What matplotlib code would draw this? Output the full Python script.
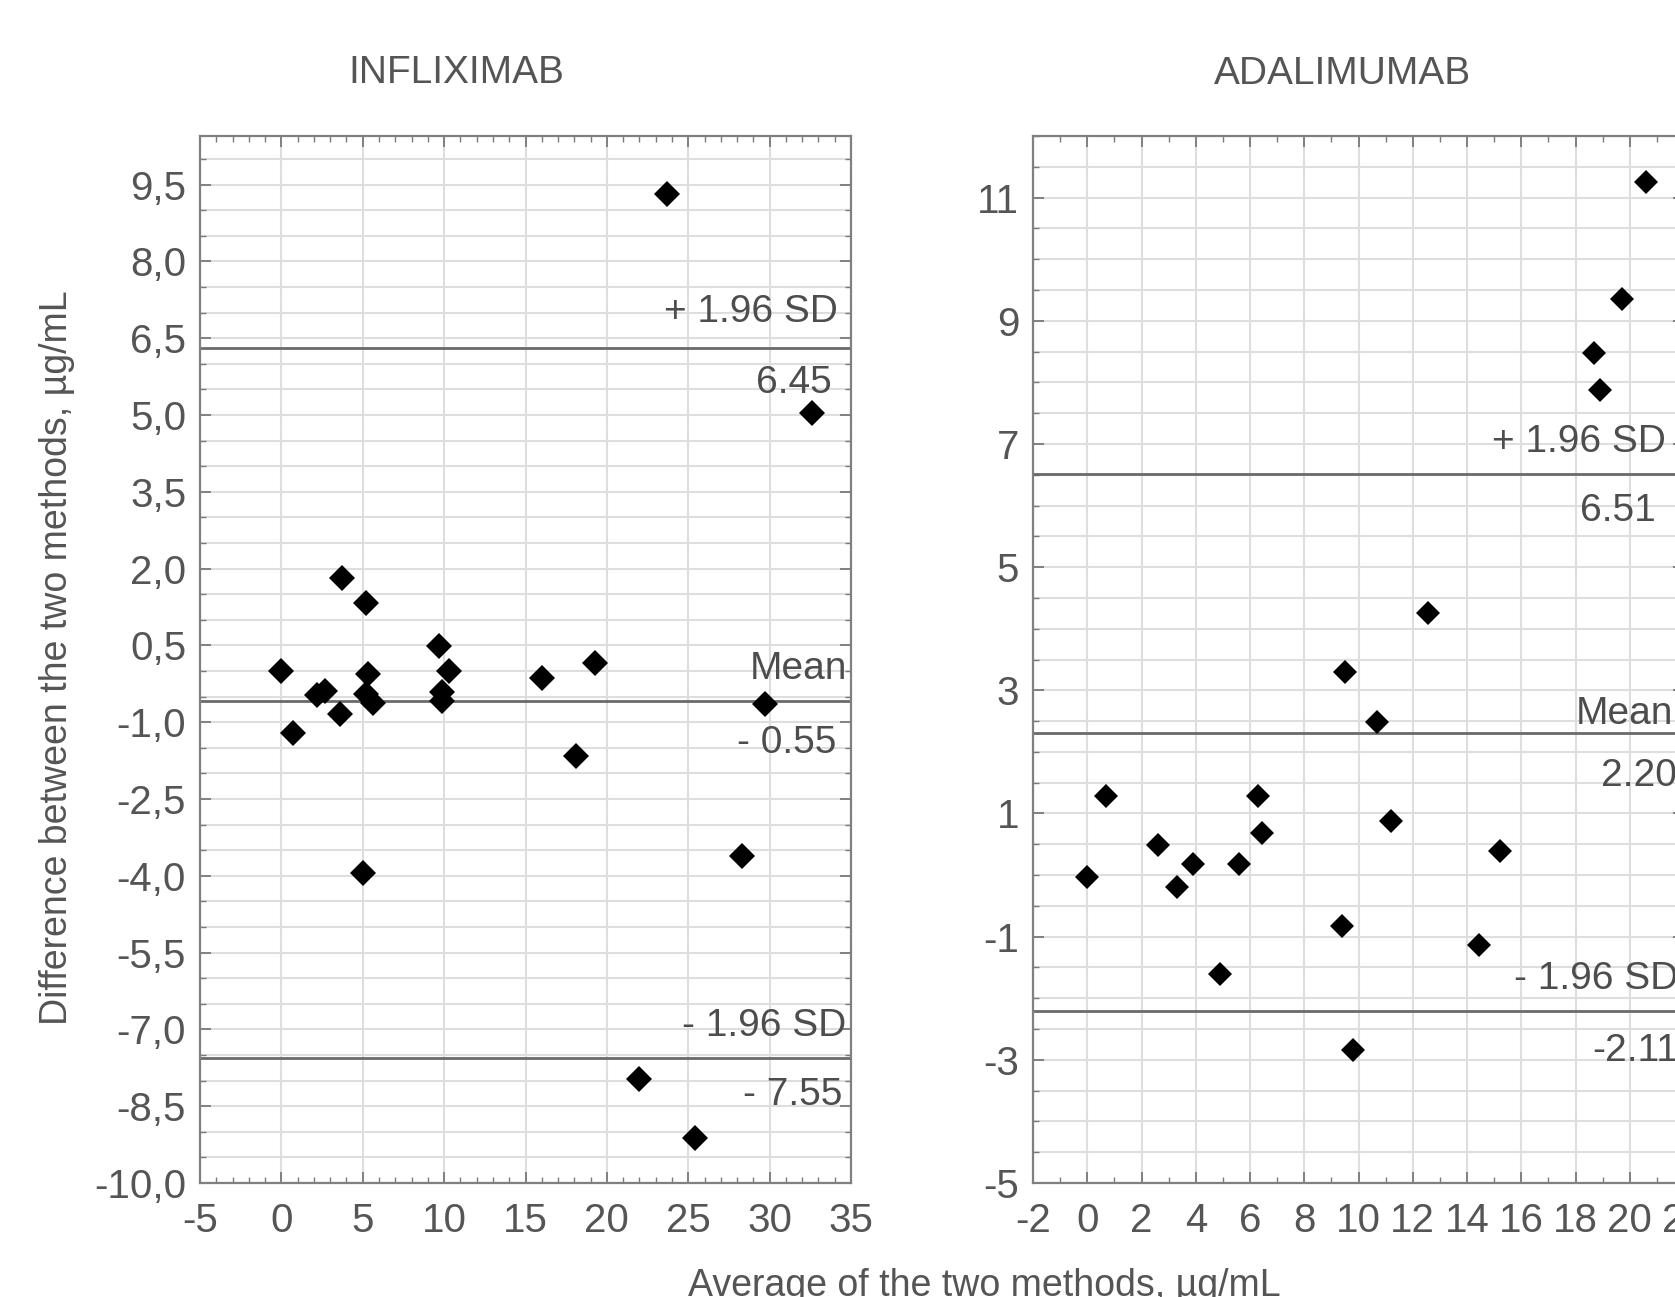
import numpy as np
import matplotlib
matplotlib.use('Agg')
from matplotlib import pyplot as plt
from matplotlib.ticker import MultipleLocator, FixedLocator

plt.rcParams['font.family'] = ['Liberation Sans Narrow', 'Liberation Sans', 'DejaVu Sans']
plt.rcParams['axes.unicode_minus'] = False

# ---------------------- INFLIXIMAB data ----------------------
inf_avg = [23.7, 32.6, 3.7, 5.2, 9.7, 0.0, 5.3, 10.3, 9.9, 9.9, 16.0, 19.3,
           2.2, 2.7, 3.6, 0.7, 5.2, 5.6, 29.7, 18.1, 5.0, 28.3, 22.0, 25.4]
inf_diff = [9.31, 5.04, 1.82, 1.32, 0.48, 0.0, -0.05, 0.01, -0.41, -0.58, -0.14, 0.16,
            -0.47, -0.40, -0.84, -1.21, -0.45, -0.62, -0.64, -1.66, -3.95, -3.62, -7.96, -9.12]
inf_lines = [6.3, -0.58, -7.56]
inf_labels = ['+ 1.96 SD', '6.45', 'Mean', '- 0.55', '- 1.96 SD', '- 7.55']
inf_label_x = [34.2, 33.8, 34.75, 34.1, 34.7, 34.5]
inf_label_y = [7.02, 5.62, 0.03, -1.41, -6.93, -8.29]
inf_xticks = [-5, 0, 5, 10, 15, 20, 25, 30, 35]
inf_yticks = [-10.0, -8.5, -7.0, -5.5, -4.0, -2.5, -1.0, 0.5, 2.0, 3.5, 5.0, 6.5, 8.0, 9.5]

# ---------------------- ADALIMUMAB data ----------------------
ada_avg = [20.6, 19.7, 18.7, 18.9, 12.55, 9.5, 10.7, 0.7, 6.3, 6.45, 11.2,
           2.6, 3.9, 5.6, 0.0, 3.3, 15.2, 9.4, 14.45, 4.9, 9.8]
ada_diff = [11.26, 9.35, 8.47, 7.87, 4.26, 3.29, 2.48, 1.29, 1.29, 0.68, 0.87,
            0.49, 0.18, 0.18, -0.03, -0.20, 0.39, -0.83, -1.14, -1.61, -2.84]
ada_lines = [6.52, 2.3, -2.2]
ada_labels = ['+ 1.96 SD', '6.51', 'Mean', '2.20', '- 1.96 SD', '-2.11']
ada_label_x = [21.33, 20.96, 21.6, 21.75, 21.78, 21.8]
ada_label_y = [7.03, 5.91, 2.62, 1.61, -1.69, -2.85]
ada_xticks = [-2, 0, 2, 4, 6, 8, 10, 12, 14, 16, 18, 20, 22]
ada_yticks = [-5, -3, -1, 1, 3, 5, 7, 9, 11]

TXT = '#555555'
W, H = 1675, 1297


def style_axes(ax, xlim, ylim, xticks, yticks, ylabels):
    ax.set_xlim(xlim)
    ax.set_ylim(ylim)
    ax.xaxis.set_major_locator(FixedLocator(xticks))
    ax.yaxis.set_major_locator(FixedLocator(yticks))
    ax.set_yticklabels(ylabels)
    ax.xaxis.set_minor_locator(MultipleLocator(1))
    ax.yaxis.set_minor_locator(MultipleLocator(0.5))
    ax.grid(axis='x', which='major', color='#dedede', lw=1.5, zorder=0)
    ax.grid(axis='y', which='both', color='#dedede', lw=1.5, zorder=0)
    ax.set_axisbelow(True)
    ax.tick_params(which='both', direction='in', top=True, right=True,
                   color='#7a7a7a', labelcolor=TXT, labelsize=29)
    ax.tick_params(which='major', length=8, width=1.3)
    ax.tick_params(which='minor', length=4, width=1.0)
    ax.tick_params(axis='x', pad=14)
    ax.tick_params(axis='y', pad=10)
    for sp in ax.spines.values():
        sp.set_color('#808080')
        sp.set_linewidth(1.6)


fig = plt.figure(figsize=(W / 100, H / 100), dpi=100)

# ---------------------- left panel ----------------------
ax1 = fig.add_axes([200 / W, 1 - 1183 / H, 651 / W, 1047 / H])
style_axes(ax1, (-5, 35), (-10, 10.45), inf_xticks, inf_yticks,
           [f'{v:.1f}'.replace('.', ',') for v in inf_yticks])
for lv in inf_lines:
    ax1.axhline(lv, color='#6a6a6a', lw=2, zorder=2)
ax1.plot(inf_avg, inf_diff, 'D', color='black', ms=13.5, mew=0, zorder=5)
for s, x, y in zip(inf_labels, inf_label_x, inf_label_y):
    ax1.text(x, y, s, ha='right', va='center', fontsize=28, color='#4d4d4d', zorder=6)

# ---------------------- right panel ----------------------
ax2 = fig.add_axes([1033 / W, 1 - 1183 / H, 651 / W, 1047 / H])
style_axes(ax2, (-2, 22), (-5, 12), ada_xticks, ada_yticks,
           [str(v) for v in ada_yticks])
for lv in ada_lines:
    ax2.axhline(lv, color='#6a6a6a', lw=2, zorder=2)
ax2.plot(ada_avg, ada_diff, 'D', color='black', ms=12, mew=0, zorder=5)
for s, x, y in zip(ada_labels, ada_label_x, ada_label_y):
    ax2.text(x, y, s, ha='right', va='center', fontsize=28, color='#4d4d4d', zorder=6)

# ---------------------- titles and axis labels ----------------------
fig.text(456 / W, 1 - 73 / H, 'INFLIXIMAB', ha='center', va='center',
         fontsize=28, color=TXT)
fig.text(1342 / W, 1 - 74 / H, 'ADALIMUMAB', ha='center', va='center',
         fontsize=28, color=TXT)
fig.text(57 / W, 1 - 658 / H, 'Difference between the two methods, µg/mL',
         rotation=90, ha='center', va='center', fontsize=27, color=TXT)
fig.text(984 / W, 1 - 1268 / H, 'Average of the two methods, µg/mL',
         ha='center', va='top', fontsize=27, color=TXT)

fig.savefig('out.png', dpi=100)
